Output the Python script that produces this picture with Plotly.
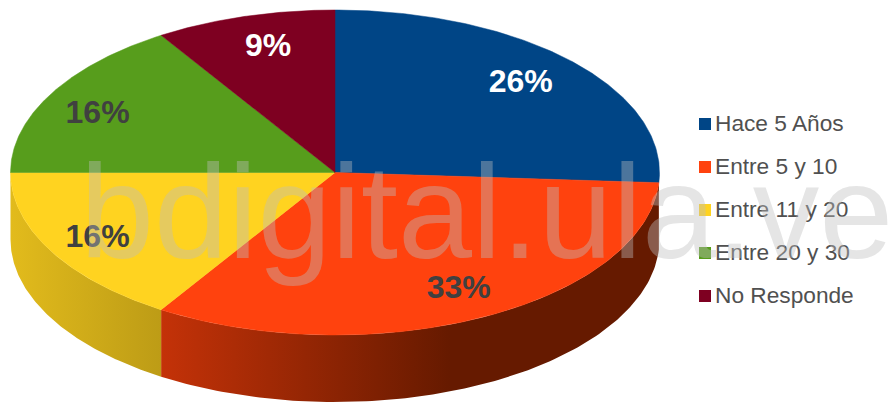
import numpy as np
import plotly.graph_objects as go

categories = ["Hace 5 Años", "Entre 5 y 10", "Entre 11 y 20", "Entre 20 y 30", "No Responde"]
values = [26, 33, 16, 16, 9]
colors = ["#004586", "#FF420E", "#FFD320", "#579D1C", "#7E0021"]
label_colors = ["#FFFFFF", "#404040", "#404040", "#404040", "#FFFFFF"]
side_start = ["#002A50", "#C43208", "#E2BB1C", "#3A6A12", "#50001A"]
side_stop = ["#002A50", "#661A00", "#BD9C16", "#3A6A12", "#50001A"]
label_rx = [0.785, 0.84, 0.835, 0.835, 0.74]
label_ry = [0.805, 0.80, 0.83, 0.76, 0.805]

W, H = 888, 403
CX, CY, RX, RY, DEPTH = 335, 172.5, 324.5, 162.5, 67
GRAD_STOP_X = 450
LABEL_DY = 1.5
FONT = "Liberation Sans"


def ex(a):
    return CX + RX * np.sin(a)


def ey(a):
    return CY - RY * np.cos(a)


fig = go.Figure()
total = sum(values)
edges = np.cumsum([0] + values) / total * 2 * np.pi

# side walls (only the front half of the disc is visible)
for i in range(len(values)):
    a0, a1 = max(edges[i], np.pi / 2), min(edges[i + 1], 3 * np.pi / 2)
    if a1 <= a0:
        continue
    t = np.linspace(a0, a1, 120)
    xs = np.r_[ex(t), ex(t)[::-1], ex(t)[0]]
    ys = np.r_[ey(t), ey(t)[::-1] + DEPTH, ey(t)[0]]
    xl, xr = float(xs.min()), float(xs.max())
    scale = [[0, side_start[i]], [1, side_stop[i]]]
    fig.add_trace(go.Scatter(
        x=xs, y=ys, mode="lines", fill="toself", line=dict(width=0),
        fillgradient=dict(type="horizontal", colorscale=scale, start=xl,
                          stop=GRAD_STOP_X if i == 1 else xr),
        hoverinfo="skip", showlegend=False))

# top faces
for i in range(len(values)):
    t = np.linspace(edges[i], edges[i + 1], 160)
    xs = np.r_[CX, ex(t), CX]
    ys = np.r_[CY, ey(t), CY]
    fig.add_trace(go.Scatter(
        x=xs, y=ys, mode="lines", fill="toself", fillcolor=colors[i],
        line=dict(width=0.5, color=colors[i]), hoverinfo="skip", showlegend=False))

# percent labels
mids = (edges[:-1] + edges[1:]) / 2
fig.add_trace(go.Scatter(
    x=[CX + RX * np.sin(m) * r for m, r in zip(mids, label_rx)],
    y=[CY + LABEL_DY - RY * np.cos(m) * r for m, r in zip(mids, label_ry)],
    mode="text", text=[f"{v}%" for v in values], textposition="middle center",
    textfont=dict(family=FONT, size=32, color=label_colors, weight="bold"),
    hoverinfo="skip", showlegend=False))

# legend
rows = [125 + 43 * i for i in range(len(categories))]
fig.add_trace(go.Scatter(
    x=[705] * len(categories), y=[r - 1 for r in rows], mode="markers",
    marker=dict(symbol="square", size=12, color=colors, line=dict(width=0)),
    hoverinfo="skip", showlegend=False))
fig.add_trace(go.Scatter(
    x=[715] * len(categories), y=rows, mode="text", text=categories,
    textposition="middle right",
    textfont=dict(family=FONT, size=22.7, color="#505050"),
    hoverinfo="skip", showlegend=False))

# watermark
fig.add_annotation(
    x=78, y=212, xref="x", yref="y", xanchor="left", yanchor="middle",
    text="bdigital.ula.ve", showarrow=False,
    font=dict(family=FONT, size=133, color="rgba(190,190,190,0.4)"))

fig.update_layout(
    width=W, height=H, autosize=False,
    margin=dict(l=0, r=0, t=0, b=0),
    paper_bgcolor="white", plot_bgcolor="white",
    xaxis=dict(range=[0, W], visible=False, fixedrange=True),
    yaxis=dict(range=[H, 0], visible=False, fixedrange=True),
    showlegend=False,
)

fig.write_html("out.html", config={"displayModeBar": False},
               post_script="document.body.style.margin='0';")
